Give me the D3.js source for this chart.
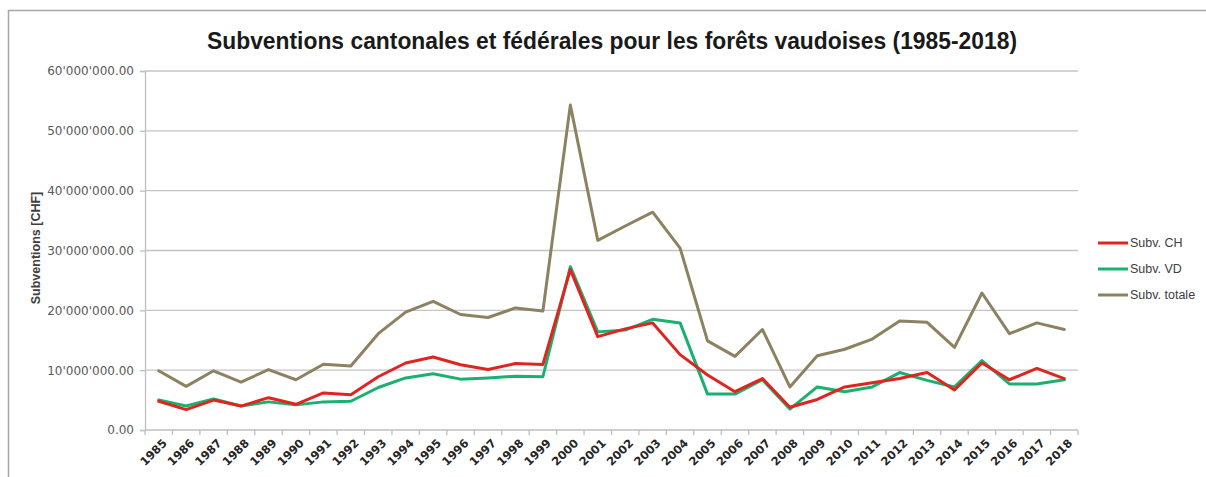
<!DOCTYPE html>
<html>
<head>
<meta charset="utf-8">
<script src="https://cdn.jsdelivr.net/npm/d3@7"></script>
<style>
  html, body { margin: 0; padding: 0; background: #ffffff; }
  svg { display: block; }
</style>
</head>
<body>
<svg id="chart" width="1206" height="477"></svg>
<script>
const years = [1985,1986,1987,1988,1989,1990,1991,1992,1993,1994,1995,1996,1997,1998,1999,2000,2001,2002,2003,2004,2005,2006,2007,2008,2009,2010,2011,2012,2013,2014,2015,2016,2017,2018];
const subvCH = [4.8,3.4,5.0,4.0,5.4,4.3,6.2,5.9,8.9,11.2,12.2,10.9,10.1,11.1,10.95,26.8,15.6,16.9,17.9,12.6,9.2,6.4,8.6,3.8,5.1,7.2,7.9,8.6,9.6,6.7,11.2,8.4,10.3,8.6];
const subvVD = [5.0,4.0,5.2,4.0,4.7,4.2,4.7,4.8,7.1,8.7,9.4,8.5,8.7,9.0,8.9,27.3,16.4,16.7,18.5,17.9,6.0,6.0,8.4,3.5,7.2,6.4,7.2,9.6,8.3,7.2,11.6,7.7,7.7,8.4];
const subvTotal = [9.9,7.3,9.9,8.0,10.1,8.4,11.0,10.7,16.1,19.7,21.5,19.3,18.8,20.4,19.9,54.3,31.7,34.1,36.4,30.4,14.9,12.3,16.8,7.2,12.4,13.5,15.2,18.2,18.0,13.8,22.9,16.1,17.9,16.8];
const yTicks = [0,10e6,20e6,30e6,40e6,50e6,60e6];
const seriesNames = ["Subv. CH","Subv. VD","Subv. totale"];
const seriesColors = ["#e0241f","#19b070","#8c8262"];

const svg = d3.select("#chart");
const M = {left:145, right:1078, top:71, bottom:430};

// chart border (cropped chart area)
svg.append("rect").attr("x",8.5).attr("y",10.5).attr("width",1300).attr("height",600)
  .attr("fill","#ffffff").attr("stroke","#a6a6a6").attr("stroke-width",1.5);

const x = d3.scaleBand().domain(years).range([M.left, M.right]).padding(0);
const y = d3.scaleLinear().domain([0,60e6]).range([M.bottom, M.top]);
const fmt = v => d3.format(",.2f")(v).replace(/,/g,"'");

// gridlines
svg.append("g").selectAll("line").data(yTicks.filter(d=>d>0)).join("line")
  .attr("x1",M.left).attr("x2",M.right)
  .attr("y1",d=>y(d)).attr("y2",d=>y(d))
  .attr("stroke","#c4c4c4").attr("stroke-width",1.3);

// y axis
const yAxis = svg.append("g").attr("transform",`translate(${M.left},0)`)
  .call(d3.axisLeft(y).tickValues(yTicks).tickFormat(fmt).tickSize(5).tickPadding(6));
yAxis.select(".domain").attr("stroke","#bfbfbf").attr("stroke-width",1.3);
yAxis.selectAll(".tick line").attr("stroke","#bfbfbf").attr("stroke-width",1.3);
yAxis.selectAll("text").attr("font-family","DejaVu Sans, sans-serif").attr("font-size",12).attr("fill","#595959");

// x axis line and tick marks (between categories)
svg.append("line").attr("x1",M.left).attr("x2",M.right).attr("y1",M.bottom).attr("y2",M.bottom)
  .attr("stroke","#bfbfbf").attr("stroke-width",1.3);
const boundaries = years.map(d=>x(d)).concat([x(years[years.length-1])+x.bandwidth()]);
svg.append("g").selectAll("line").data(boundaries).join("line")
  .attr("x1",d=>d).attr("x2",d=>d).attr("y1",M.bottom).attr("y2",M.bottom+5)
  .attr("stroke","#bfbfbf").attr("stroke-width",1.3);

// x labels
const xAxis = svg.append("g").attr("transform",`translate(0,${M.bottom})`)
  .call(d3.axisBottom(x).tickSize(0).tickPadding(0));
xAxis.select(".domain").remove();
xAxis.selectAll("text")
  .attr("font-family","DejaVu Sans, sans-serif").attr("font-size",11.5).attr("font-weight","bold")
  .attr("fill","#262626")
  .attr("text-anchor","end")
  .attr("x",6).attr("y",9).attr("dy","0.35em")
  .attr("transform","rotate(-45)");
xAxis.selectAll(".tick text").each(function(){
  d3.select(this).attr("transform","translate(6,11) rotate(-45)").attr("x",0).attr("y",0);
});

// lines
const cx = d => x(d) + x.bandwidth()/2;
const data = [subvCH, subvVD, subvTotal];
const order = [2,1,0];
order.forEach(i => {
  const line = d3.line().x((v,j)=>cx(years[j])).y(v=>y(v*1e6));
  svg.append("path").datum(data[i]).attr("d",line)
    .attr("fill","none").attr("stroke",seriesColors[i]).attr("stroke-width",3)
    .attr("stroke-linejoin","round").attr("stroke-linecap","round");
});

// title
svg.append("text").attr("x",612).attr("y",49).attr("text-anchor","middle")
  .attr("font-family","Liberation Sans Narrow, Arial Narrow, Liberation Sans, sans-serif")
  .attr("font-size",23).attr("font-weight","bold").attr("fill","#1a1a1a")
  .attr("textLength",810).attr("lengthAdjust","spacingAndGlyphs")
  .text("Subventions cantonales et fédérales pour les forêts vaudoises (1985-2018)");

// y axis title
svg.append("text").attr("transform","translate(40,248) rotate(-90)").attr("text-anchor","middle")
  .attr("font-family","Liberation Sans Narrow, Liberation Sans, sans-serif").attr("font-size",12.5)
  .attr("font-weight","bold").attr("fill","#404040")
  .text("Subventions [CHF]");

// legend
const legY = [243,269,295];
const leg = svg.append("g");
seriesNames.forEach((n,i) => {
  leg.append("line").attr("x1",1098).attr("x2",1128).attr("y1",legY[i]).attr("y2",legY[i])
    .attr("stroke",seriesColors[i]).attr("stroke-width",3);
  leg.append("text").attr("x",1130).attr("y",legY[i]).attr("dy","0.35em")
    .attr("font-family","Liberation Sans Narrow, Liberation Sans, sans-serif").attr("font-size",12.5)
    .attr("fill","#404040").text(n);
});
</script>
</body>
</html>
